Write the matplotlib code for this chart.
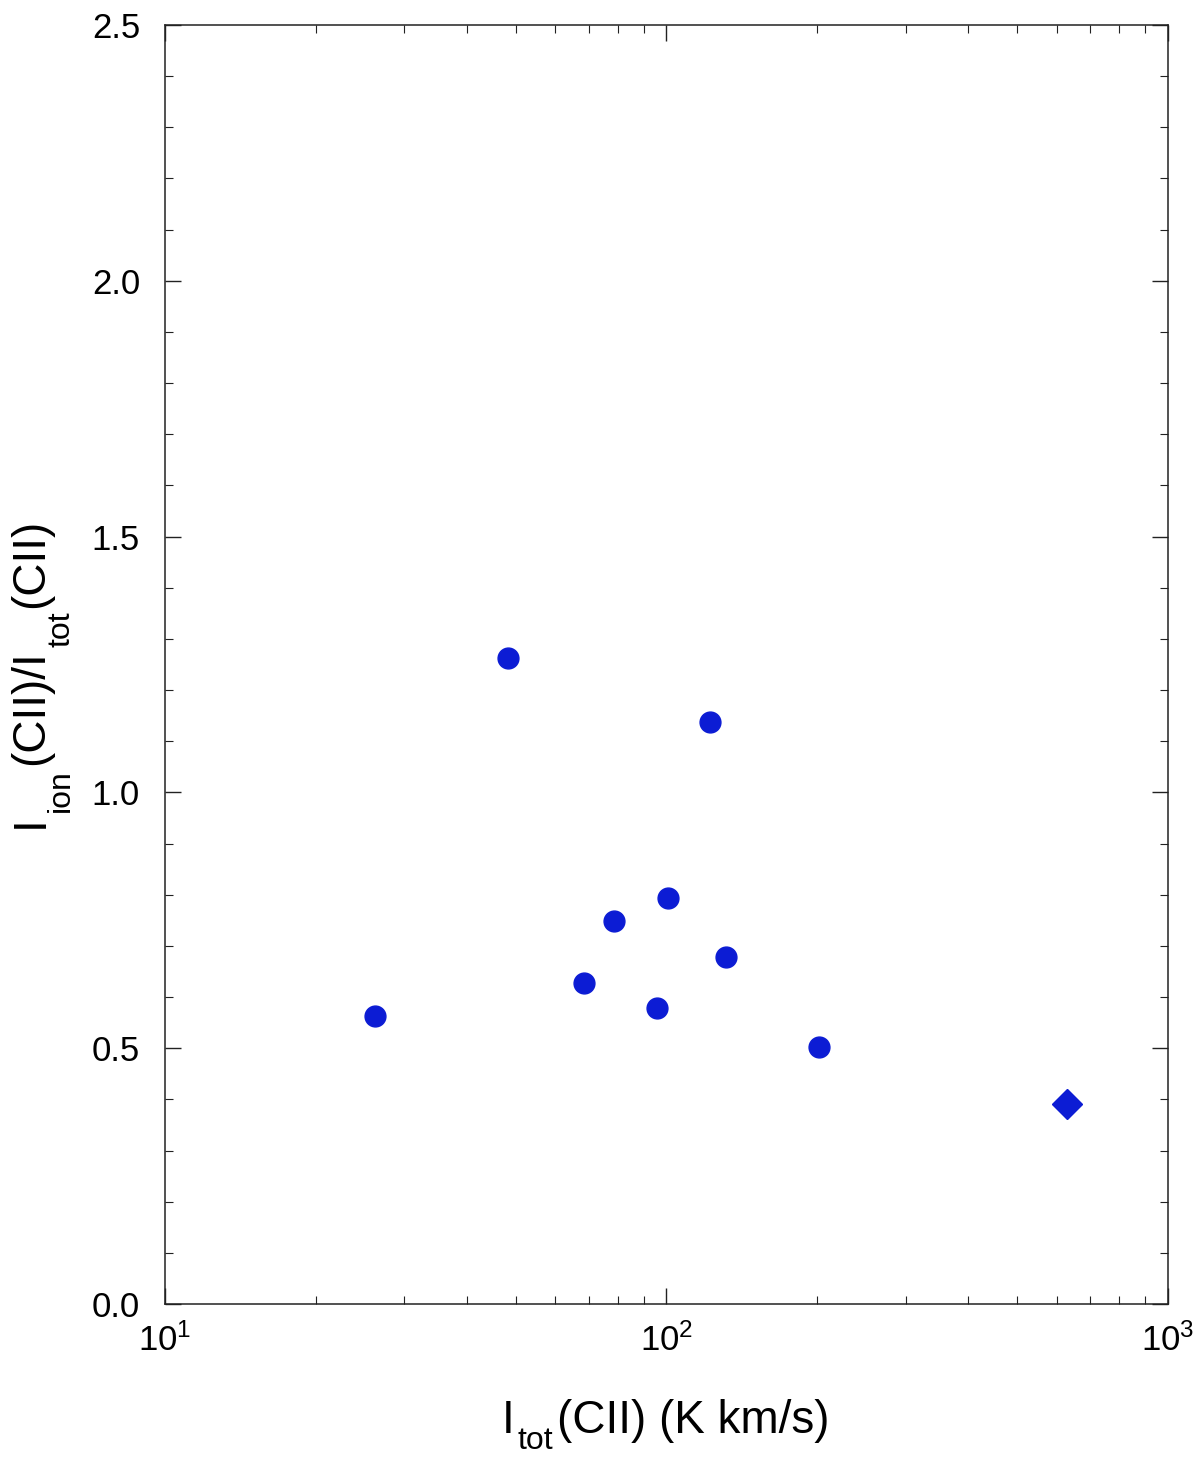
import matplotlib
matplotlib.use('Agg')
import matplotlib.pyplot as plt
from matplotlib.transforms import IdentityTransform
from matplotlib.ticker import LogLocator, MultipleLocator, FormatStrFormatter, LogFormatterMathtext

plt.rcParams['font.family'] = ['Liberation Sans', 'DejaVu Sans']
plt.rcParams['mathtext.fontset'] = 'custom'
plt.rcParams['mathtext.rm'] = 'Liberation Sans'
plt.rcParams['mathtext.it'] = 'Liberation Sans'

# circles
i_tot = [26.2, 48.3, 68.5, 78.5, 95.7, 100.7, 122.1, 131.4, 201.4]
ratio = [0.563, 1.263, 0.627, 0.749, 0.579, 0.794, 1.138, 0.678, 0.502]
# diamond
i_tot_d = [629]
ratio_d = [0.391]

BLUE = '#0c1cd4'


def rich_label(fig, pieces, center, base, rot=0):
    # pieces: (text, size, subscript drop px, gap px), laid out in pixels
    r = fig.canvas.get_renderer()
    placed = []
    for s, size, drop, gap in pieces:
        t = fig.text(0, 0, s, fontsize=size, transform=IdentityTransform(),
                     rotation=rot, rotation_mode='anchor', ha='left', va='baseline')
        bb = t.get_window_extent(r)
        placed.append((t, bb.height if rot else bb.width, drop, gap))
    total = sum(L + g for _, L, _, g in placed)
    pos = center - total / 2
    for t, L, drop, gap in placed:
        if rot:
            t.set_position((base + drop, pos))
        else:
            t.set_position((pos, base - drop))
        pos += L + gap


fig = plt.figure(figsize=(12, 14.6), dpi=100)
ax = fig.add_axes([0.1375, 0.1068, 0.8358, 0.8761])

ax.plot(i_tot, ratio, 'o', color=BLUE, ms=15, mec=BLUE)
ax.plot(i_tot_d, ratio_d, 'D', color=BLUE, ms=15.5, mec=BLUE)

ax.set_xscale('log')
ax.set_xlim(10, 1000)
ax.set_ylim(0, 2.5)
ax.xaxis.set_major_locator(LogLocator(base=10))
ax.xaxis.set_minor_locator(LogLocator(base=10, subs=range(2, 10)))
ax.xaxis.set_major_formatter(LogFormatterMathtext())
ax.yaxis.set_major_locator(MultipleLocator(0.5))
ax.yaxis.set_minor_locator(MultipleLocator(0.1))
ax.yaxis.set_major_formatter(FormatStrFormatter('%.1f'))

for s in ax.spines.values():
    s.set_linewidth(1.1)
    s.set_color('#222222')
ax.tick_params(which='both', direction='in', top=True, right=True, color='#222222')
ax.tick_params(which='major', length=11.5, width=1.0, labelsize=25)
ax.tick_params(which='minor', length=6, width=0.8)
ax.tick_params(axis='y', which='major', pad=18)
ax.tick_params(axis='x', which='major', pad=14)

# axis titles with big, low subscripts
rich_label(fig, [('I', 33, 0, 3), ('tot', 23, 16, 4), ('(CII) (K km/s)', 33, 0, 0)],
           center=666, base=27)
rich_label(fig, [('I', 33, 0, 3), ('ion', 23, 26, 4), ('(CII)/I', 33, 0, 3),
                 ('tot', 23, 26, 4), ('(CII)', 33, 0, 0)],
           center=787, base=43, rot=90)

fig.savefig('out.png', dpi=100)
